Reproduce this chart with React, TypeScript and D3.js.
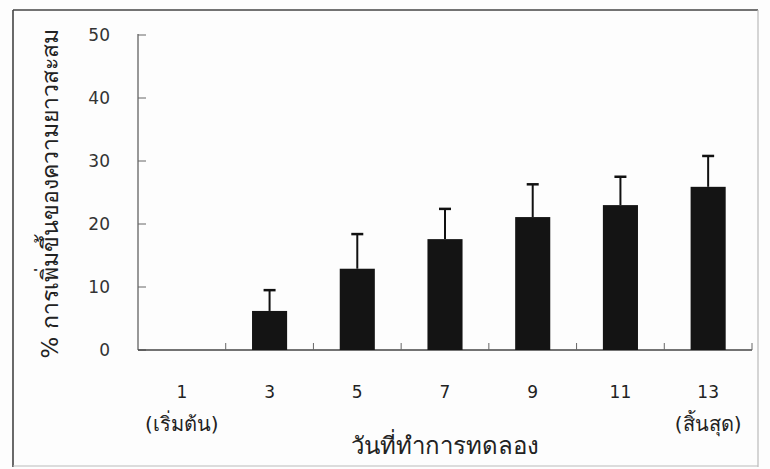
import React from "react";
import * as d3 from "d3";

// Experiment days and accumulated length increase (%)
const days = ["1", "3", "5", "7", "9", "11", "13"];
const dayNotes = ["(เริ่มต้น)", "", "", "", "", "", "(สิ้นสุด)"];
const meanIncrease = [0, 6.2, 12.9, 17.6, 21.1, 23.0, 25.9];
const sdIncrease = [0, 3.3, 5.5, 4.8, 5.2, 4.5, 4.9];
const yTicks = [0, 10, 20, 30, 40, 50];

const W = 770;
const H = 469;
const margin = { left: 138, right: 18, top: 35, bottom: 119 };

export default function App() {
  const x = d3
    .scaleBand<string>()
    .domain(days)
    .range([margin.left, W - margin.right])
    .paddingInner(0.6)
    .paddingOuter(0.3);
  const step = x.step();
  const x0 = margin.left;
  const x1 = W - margin.right;
  const y = d3.scaleLinear().domain([0, 50]).range([H - margin.bottom, margin.top]);

  const font = "Tahoma, 'DejaVu Sans', 'Noto Sans', sans-serif";
  const boundaries = d3.range(1, days.length + 1).map((i) => x0 + i * step);

  return (
    <svg
      width={W}
      height={H}
      style={{ position: "absolute", left: 0, top: 0, background: "#fff" }}
      fontFamily={font}
    >
      <rect x={0} y={0} width={W} height={H} fill="#fdfdfd" />
      {/* outer frame */}
      <line x1={13} y1={10} x2={758} y2={10} stroke="#444" strokeWidth={1.6} />
      <line x1={13} y1={10} x2={13} y2={467} stroke="#444" strokeWidth={1.6} />
      <line x1={758} y1={10} x2={758} y2={467} stroke="#bbb" strokeWidth={1.2} />
      <line x1={13} y1={466} x2={758} y2={466} stroke="#bbb" strokeWidth={1.2} />

      {/* y axis */}
      <line x1={x0} y1={y(50) - 1} x2={x0} y2={y(0)} stroke="#555" strokeWidth={1.2} />
      {yTicks.map((t) => (
        <g key={t}>
          <line x1={x0} x2={x0 + 8} y1={y(t)} y2={y(t)} stroke="#666" strokeWidth={1} />
          <text
            x={110}
            y={y(t)}
            dy="0.36em"
            textAnchor="end"
            fontSize={17}
            fill="#333"
          >
            {t}
          </text>
        </g>
      ))}

      {/* x axis */}
      <line x1={x0} y1={y(0)} x2={x1} y2={y(0)} stroke="#444" strokeWidth={1.4} />
      {boundaries.map((bx, i) => (
        <line key={i} x1={bx} x2={bx} y1={y(0)} y2={y(0) - 7} stroke="#666" strokeWidth={1} />
      ))}

      {/* bars with upper error bars */}
      {days.map((d, i) => {
        const cx = (x(d) ?? 0) + x.bandwidth() / 2;
        const v = meanIncrease[i];
        if (v <= 0) return null;
        const top = y(v + sdIncrease[i]);
        return (
          <g key={d}>
            <line x1={cx} x2={cx} y1={y(v)} y2={top} stroke="#111" strokeWidth={2} />
            <line x1={cx - 6} x2={cx + 6} y1={top} y2={top} stroke="#111" strokeWidth={2.5} />
            <rect
              x={x(d)}
              y={y(v)}
              width={x.bandwidth()}
              height={y(0) - y(v)}
              fill="#141414"
            />
          </g>
        );
      })}

      {/* category labels */}
      {days.map((d, i) => {
        const cx = (x(d) ?? 0) + x.bandwidth() / 2;
        return (
          <g key={d}>
            <text x={cx} y={398} textAnchor="middle" fontSize={17} fill="#222">
              {d}
            </text>
            {dayNotes[i] && (
              <text x={cx} y={431} textAnchor="middle" fontSize={20} fill="#222">
                {dayNotes[i]}
              </text>
            )}
          </g>
        );
      })}

      <text x={(x0 + x1) / 2} y={454} textAnchor="middle" fontSize={24} fill="#222">
        วันที่ทำการทดลอง
      </text>

      <text
        transform={`translate(58, ${194}) rotate(-90)`}
        textAnchor="middle"
        fontSize={23}
        fill="#222"
      >
        % การเพิ่มขึ้นของความยาวสะสม
      </text>
    </svg>
  );
}
